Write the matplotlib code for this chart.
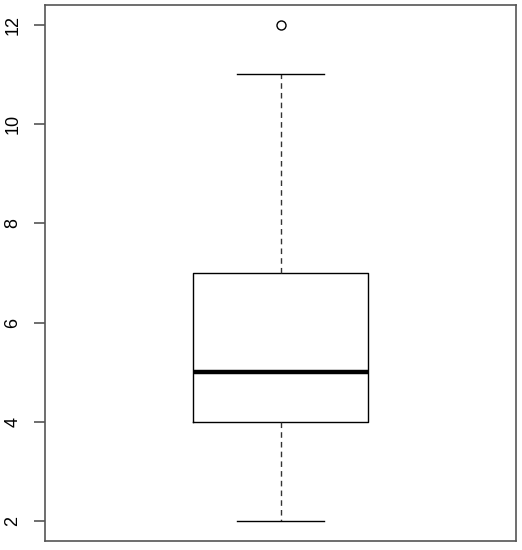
import matplotlib
matplotlib.use("Agg")
import matplotlib.pyplot as plt

# Box statistics
whisker_low = 2
q1 = 4
median = 5
q3 = 7
whisker_high = 11
outliers = [12]
yticks = [2, 4, 6, 8, 10, 12]

plt.rcParams['font.family'] = ['Liberation Sans', 'DejaVu Sans']

fig = plt.figure(figsize=(5.22, 5.5), dpi=100)
ax = fig.add_axes([45/522, 9/550, 471/522, 536/550])

stats = [dict(whislo=whisker_low, q1=q1, med=median, q3=q3, whishi=whisker_high, fliers=outliers)]
ax.bxp(stats, positions=[0.5], widths=0.372, showfliers=True,
       boxprops=dict(color='black', linewidth=1.0),
       medianprops=dict(color='black', linewidth=3.2, solid_capstyle='butt'),
       whiskerprops=dict(color='#333333', linewidth=1.0, linestyle=(0, (4, 3))),
       capprops=dict(color='black', linewidth=1.0),
       capwidths=0.183,
       flierprops=dict(marker='o', markerfacecolor='none', markeredgecolor='black',
                       markersize=6.5, markeredgewidth=1.0))

ax.set_xlim(0, 1)
ax.set_ylim(1.6, 12.4)
ax.set_xticks([])
ax.set_yticks(yticks)
ax.set_yticklabels([str(v) for v in yticks])
ax.tick_params(axis='y', length=8, width=1.2, color='#555555', labelsize=13, pad=9,
               labelrotation=90)
for lab in ax.get_yticklabels():
    lab.set_va('center')
for s in ax.spines.values():
    s.set_color('#555555')
    s.set_linewidth(1.2)

fig.savefig('out.png', dpi=100)
